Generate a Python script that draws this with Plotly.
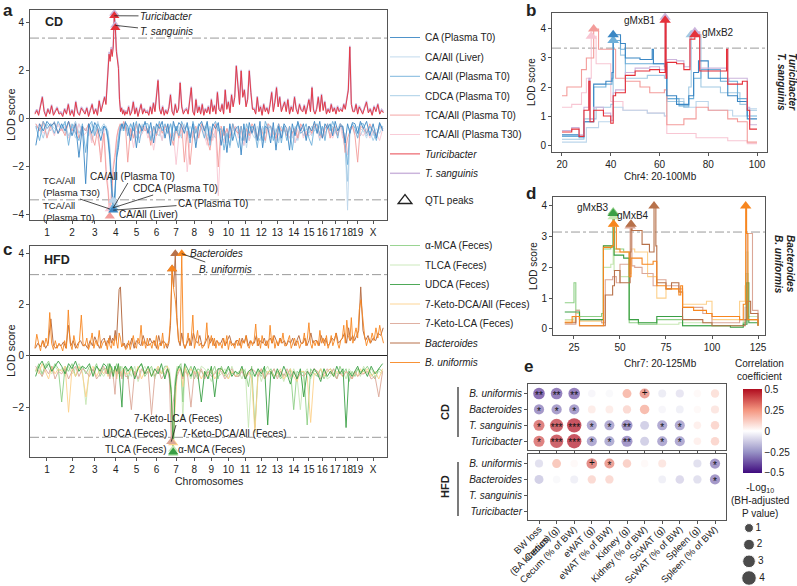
import plotly.graph_objects as go

W, H = 797, 586
FONT = "Liberation Sans, Arial, Helvetica, sans-serif"
TXT = "#222222"

def PX(x):
    return x / W

def PY(y):
    return 1 - y / H

# ---------------- genome map ----------------
CHR_NAMES = ['1', '2', '3', '4', '5', '6', '7', '8', '9', '10', '11', '12', '13', '14', '15', '16', '17', '18', '19', 'X']
CHR_LEN = [195, 182, 160, 157, 152, 150, 145, 130, 125, 131, 122, 120, 121, 125, 104, 98, 95, 91, 61, 171]

THR_A = 3.37   # CD genome-wide threshold
THR_C = 3.18   # HFD genome-wide threshold
THR_B = 3.34   # chr4 zoom threshold
THR_D = 3.15   # chr7 zoom threshold
QTL_CHR_A = 4
QTL_CHR_C = 7

# ---------------- panel a (CD), LOD per chromosome ----------------
turicibacter_cd = [
    [0.2, 0.35, 0.15, 0.5, 0.9, 0.3, 0.1, 0.4, 0.2, 0.55, 0.15, 0.3, 0.45, 0.2],
    [0.25, 0.1, 0.4, 0.2, 0.6, 0.15, 0.35, 0.1, 0.7, 0.25, 0.15, 0.45, 0.3],
    [0.2, 0.45, 0.1, 0.35, 0.6, 0.2, 0.4, 0.15, 0.75, 0.3, 0.55, 0.9],
    [0.6, 1.4, 2.1, 2.7, 2.4, 2.9, 2.6, 3.0, 4.3, 3.8, 2.8, 2.5, 2.1, 0.8, 0.3, 0.45, 0.2, 0.35, 0.15, 0.3],
    [0.2, 0.5, 0.15, 0.3, 0.7, 0.2, 0.45, 0.1, 0.35, 0.6, 0.2, 0.4, 0.25],
    [0.3, 0.15, 0.5, 0.2, 0.65, 0.3, 0.9, 1.6, 0.4, 0.2, 0.5, 0.15, 0.35],
    [0.2, 0.45, 1.0, 0.3, 0.15, 0.6, 0.25, 0.4, 1.5, 0.5, 0.2, 0.35],
    [0.4, 0.2, 0.7, 1.3, 0.3, 0.15, 0.8, 0.25, 0.5, 0.2, 0.6],
    [0.15, 0.4, 0.25, 0.5, 0.2, 0.8, 0.3, 0.55, 0.2, 1.1, 0.4],
    [0.3, 0.6, 0.2, 1.2, 0.4, 0.7, 0.25, 1.0, 0.5, 0.9, 2.2],
    [1.5, 0.6, 2.0, 0.9, 1.2, 0.5, 0.8, 2.0, 1.1, 0.4],
    [0.4, 0.2, 0.9, 0.3, 0.5, 0.15, 0.6, 0.3, 0.45, 0.2],
    [0.6, 1.1, 0.3, 0.7, 1.3, 0.5, 0.9, 0.3, 0.5, 0.7],
    [0.3, 0.8, 0.2, 0.5, 0.3, 0.9, 0.4, 0.2, 0.6, 0.35],
    [0.3, 0.55, 0.2, 0.45, 0.8, 0.3, 1.3, 0.35, 0.2],
    [0.4, 0.9, 0.3, 1.0, 0.35, 0.7, 0.2, 0.4],
    [0.25, 0.6, 0.3, 0.45, 0.2, 0.5, 0.3, 0.4],
    [0.3, 0.6, 0.4, 0.8, 1.2, 3.0, 0.6, 0.3],
    [0.3, 0.6, 0.2, 0.5, 0.35],
    [0.2, 0.45, 0.7, 0.25, 0.4, 0.15, 0.5, 0.3, 0.6, 0.2, 0.35, 0.25],
]
tsanguinis_cd = [
    [0.25, 0.4, 0.2, 0.55, 0.95, 0.35, 0.15, 0.45, 0.25, 0.6, 0.2, 0.35, 0.5, 0.25],
    [0.3, 0.15, 0.45, 0.25, 0.65, 0.2, 0.4, 0.15, 0.75, 0.3, 0.2, 0.5, 0.35],
    [0.25, 0.5, 0.15, 0.4, 0.65, 0.25, 0.45, 0.2, 0.8, 0.35, 0.6, 0.95],
    [0.65, 1.5, 2.2, 2.8, 2.5, 3.0, 2.7, 3.1, 4.4, 3.9, 2.9, 2.6, 2.2, 0.85, 0.35, 0.5, 0.25, 0.4, 0.2, 0.35],
    [0.25, 0.55, 0.2, 0.35, 0.75, 0.25, 0.5, 0.15, 0.4, 0.65, 0.25, 0.45, 0.3],
    [0.35, 0.2, 0.55, 0.25, 0.7, 0.35, 0.95, 1.65, 0.45, 0.25, 0.55, 0.2, 0.4],
    [0.25, 0.5, 1.05, 0.35, 0.2, 0.65, 0.3, 0.45, 1.55, 0.55, 0.25, 0.4],
    [0.45, 0.25, 0.75, 1.35, 0.35, 0.2, 0.85, 0.3, 0.55, 0.25, 0.65],
    [0.2, 0.45, 0.3, 0.55, 0.25, 0.85, 0.35, 0.6, 0.25, 1.15, 0.45],
    [0.35, 0.65, 0.25, 1.25, 0.45, 0.75, 0.3, 1.05, 0.55, 0.95, 2.25],
    [1.55, 0.65, 2.05, 0.95, 1.25, 0.55, 0.85, 2.05, 1.15, 0.45],
    [0.45, 0.25, 0.95, 0.35, 0.55, 0.2, 0.65, 0.35, 0.5, 0.25],
    [0.65, 1.15, 0.35, 0.75, 1.35, 0.55, 0.95, 0.35, 0.55, 0.75],
    [0.35, 0.85, 0.25, 0.55, 0.35, 0.95, 0.45, 0.25, 0.65, 0.4],
    [0.35, 0.6, 0.25, 0.5, 0.85, 0.35, 1.35, 0.4, 0.25],
    [0.45, 0.95, 0.35, 1.05, 0.4, 0.75, 0.25, 0.45],
    [0.3, 0.65, 0.35, 0.5, 0.25, 0.55, 0.35, 0.45],
    [0.35, 0.65, 0.45, 0.85, 1.25, 3.05, 0.65, 0.35],
    [0.35, 0.65, 0.25, 0.55, 0.4],
    [0.25, 0.5, 0.75, 0.3, 0.45, 0.2, 0.55, 0.35, 0.65, 0.25, 0.4, 0.3],
]
ca_t0_cd = [
    [1.1, 0.2, 0.5, 0.1, 0.3, 0.15, 0.6],
    [0.2, 0.5, 0.1, 0.7, 0.2, 1.6, 0.3],
    [2.7, 0.2, 0.6, 0.15, 0.4, 0.9, 0.3],
    [0.4, 0.8, 1.5, 2.7, 3.8, 3.0, 1.6, 1.2, 0.5, 0.2, 0.4, 0.15],
    [0.3, 0.9, 0.15, 1.2, 0.2, 0.5, 0.1],
    [0.6, 0.15, 1.0, 0.2, 0.4, 0.1, 0.8],
    [0.2, 1.1, 0.1, 0.5, 0.15, 0.3, 0.6],
    [0.15, 0.8, 0.2, 1.2, 0.3, 0.1],
    [0.5, 0.1, 0.9, 0.2, 0.4, 0.15],
    [1.1, 0.3, 1.4, 0.2, 0.9, 0.4],
    [0.3, 1.5, 0.2, 1.0, 0.15, 0.6],
    [0.2, 0.9, 0.1, 1.2, 0.3, 0.4],
    [1.0, 0.15, 1.3, 0.3, 0.8, 0.2],
    [0.4, 1.3, 0.2, 0.7, 0.1, 0.5],
    [0.2, 0.9, 0.3, 0.5, 0.1],
    [0.6, 0.1, 0.8, 0.2, 0.4],
    [0.2, 0.7, 0.1, 0.5, 0.3],
    [0.3, 1.0, 0.2, 0.6, 0.15],
    [0.2, 0.6, 0.1],
    [0.4, 0.1, 0.7, 0.2, 0.8, 0.15, 0.5],
]
ca_all_t0_cd = [
    [0.3, 0.9, 0.1, 0.4, 0.2, 0.6, 0.1],
    [0.4, 0.1, 1.1, 0.2, 0.6, 0.9, 0.2],
    [1.4, 0.3, 0.1, 0.7, 0.2, 0.5, 0.3],
    [0.5, 0.9, 1.7, 3.0, 3.7, 3.3, 1.5, 0.9, 0.3, 0.2, 0.5, 0.1],
    [0.7, 0.2, 0.5, 0.1, 1.0, 0.3, 0.2],
    [0.2, 0.9, 0.3, 0.6, 0.1, 0.5, 0.2],
    [0.6, 0.2, 0.9, 0.3, 0.7, 0.1, 0.4],
    [0.3, 1.0, 0.1, 0.6, 0.2, 0.4],
    [0.8, 0.2, 1.1, 0.3, 0.1, 0.5],
    [0.4, 1.3, 0.6, 1.1, 0.2, 0.7],
    [1.2, 0.3, 0.9, 0.2, 0.6, 0.3],
    [0.5, 1.2, 0.3, 0.9, 0.1, 0.4],
    [0.3, 0.9, 0.5, 0.2, 1.0, 0.3],
    [0.9, 0.3, 1.3, 0.4, 0.2, 0.6],
    [0.5, 0.2, 0.8, 1.1, 0.3],
    [0.2, 0.7, 0.3, 0.9, 0.2],
    [0.5, 0.1, 0.4, 0.8, 0.2],
    [0.3, 1.0, 1.9, 0.4, 0.2],
    [0.4, 0.8, 0.2],
    [0.2, 0.6, 0.3, 0.5, 0.9, 0.2, 0.4],
]
ca_all_liver_cd = [
    [0.2, 0.5, 0.1, 0.7, 0.2, 0.4, 0.3],
    [0.3, 0.6, 0.1, 0.4, 0.8, 0.2, 0.5],
    [0.4, 0.7, 0.2, 0.5, 0.1, 0.6, 0.3],
    [0.3, 0.6, 1.1, 2.5, 3.4, 3.6, 1.2, 0.7, 0.3, 0.5, 0.2, 0.4],
    [0.5, 0.2, 0.8, 0.3, 0.6, 0.2, 0.4],
    [0.6, 0.3, 0.7, 0.2, 0.5, 0.9, 0.3],
    [0.4, 0.8, 0.2, 0.6, 0.3, 0.7, 0.2],
    [0.7, 0.3, 0.6, 0.9, 0.2, 0.4],
    [0.3, 0.7, 0.4, 0.8, 0.5, 0.2],
    [0.8, 0.4, 1.0, 0.3, 0.7, 0.4],
    [0.4, 0.9, 0.5, 1.2, 0.3, 0.6],
    [0.8, 0.3, 0.7, 0.4, 1.0, 0.3],
    [0.3, 0.8, 0.4, 0.9, 0.5, 0.3],
    [0.7, 0.4, 0.8, 0.3, 0.9, 0.4],
    [0.4, 0.8, 0.3, 0.7, 0.3],
    [0.6, 0.3, 0.8, 0.4, 0.3],
    [0.3, 0.7, 0.4, 0.6, 0.2],
    [0.4, 0.8, 3.8, 0.5, 0.3],
    [0.3, 0.6, 0.4],
    [0.5, 0.8, 0.3, 0.7, 0.4, 0.6, 0.3],
]
cdca_t0_cd = [
    [0.3, 0.4, 0.8, 0.2, 0.5, 0.1, 0.6],
    [0.4, 0.2, 0.7, 0.4, 0.1, 0.6, 0.3],
    [0.5, 0.2, 0.9, 0.3, 0.6, 0.4, 0.2],
    [0.4, 0.5, 1.3, 2.8, 3.7, 3.1, 1.3, 0.8, 0.3, 0.4, 0.2, 0.5],
    [0.4, 0.7, 0.4, 0.8, 0.2, 0.6, 0.3],
    [0.5, 0.8, 0.3, 0.6, 0.7, 0.3, 0.4],
    [0.6, 0.2, 0.7, 0.3, 0.5, 0.8, 0.3],
    [0.3, 0.6, 0.8, 0.4, 0.7, 0.2],
    [0.5, 0.9, 0.3, 0.6, 0.8, 0.3],
    [0.7, 0.9, 0.4, 1.2, 0.5, 0.3],
    [0.6, 0.8, 1.1, 0.4, 0.9, 0.3],
    [0.4, 0.7, 0.9, 0.3, 0.6, 0.2],
    [0.8, 0.4, 0.7, 1.0, 0.3, 0.5],
    [0.5, 0.8, 0.5, 1.0, 0.7, 0.3],
    [0.7, 0.4, 0.6, 0.3, 0.5],
    [0.4, 0.9, 0.3, 0.6, 0.4],
    [0.7, 0.3, 0.6, 0.4, 0.2],
    [0.6, 1.3, 2.6, 0.4, 0.3],
    [0.6, 0.3, 0.7],
    [0.4, 0.7, 0.5, 0.9, 0.6, 0.4, 0.3],
]
tca_t0_cd = [
    [0.2, 0.5, 0.1, 0.8, 0.3, 0.15, 0.6],
    [0.4, 0.7, 0.1, 0.5, 0.2, 0.8, 0.3],
    [0.5, 0.2, 0.7, 1.1, 0.4, 1.8, 0.6],
    [2.4, 3.0, 4.05, 3.3, 2.1, 1.6, 0.8, 0.4, 0.2, 0.4, 0.1, 0.3],
    [1.8, 0.4, 0.8, 0.2, 0.6, 0.3, 0.5],
    [0.4, 1.1, 0.3, 0.7, 0.2, 0.6, 0.3],
    [0.3, 0.7, 1.1, 0.4, 0.8, 0.2, 1.8],
    [0.5, 1.9, 0.6, 0.3, 0.8, 0.2],
    [0.4, 0.8, 1.3, 0.5, 0.2, 2.0],
    [0.3, 0.7, 0.4, 0.8, 0.2, 0.5],
    [0.6, 0.3, 0.9, 0.4, 0.7, 0.2],
    [0.4, 0.8, 0.3, 0.6, 0.9, 0.2],
    [0.3, 0.6, 0.8, 0.2, 0.5, 0.4],
    [0.7, 0.3, 0.6, 0.4, 0.8, 0.2],
    [0.4, 0.7, 0.3, 0.6, 0.2],
    [0.3, 0.6, 0.8, 0.4, 0.2],
    [0.8, 0.4, 0.3, 0.7, 0.2],
    [0.4, 1.4, 0.8, 0.5, 0.3],
    [0.7, 1.8, 0.3],
    [0.4, 0.6, 0.2, 0.5, 0.7, 0.3, 0.4],
]
tca_t30_cd = [
    [0.4, 0.2, 0.6, 0.4, 0.3, 0.7, 0.2],
    [0.5, 0.3, 0.8, 0.4, 0.6, 0.2, 0.7],
    [0.6, 0.4, 1.0, 0.5, 0.8, 1.5, 0.4],
    [2.1, 2.8, 3.75, 3.0, 1.9, 1.4, 0.7, 0.4, 0.5, 0.3, 0.4, 0.2],
    [0.7, 0.4, 1.2, 0.5, 0.8, 0.6, 0.3],
    [0.8, 0.5, 1.3, 0.6, 0.4, 0.9, 0.3],
    [0.5, 0.9, 0.6, 1.9, 0.7, 0.5, 0.3],
    [2.2, 0.8, 0.5, 0.9, 0.6, 0.3],
    [0.7, 1.1, 0.5, 0.9, 0.4, 3.2],
    [0.6, 1.0, 0.4, 0.7, 0.5, 0.3],
    [0.8, 0.5, 1.1, 0.6, 0.9, 0.4],
    [0.6, 0.9, 0.5, 0.8, 0.4, 0.3],
    [0.7, 0.4, 0.9, 0.6, 0.8, 0.3],
    [0.5, 0.8, 0.6, 1.0, 0.4, 0.3],
    [0.8, 0.5, 0.7, 0.6, 0.3],
    [0.5, 0.8, 0.4, 0.7, 0.3],
    [0.6, 0.8, 0.5, 0.7, 0.3],
    [0.8, 0.6, 1.5, 0.5, 0.3],
    [0.5, 0.8, 0.6],
    [0.7, 0.4, 0.8, 0.5, 0.6, 0.9, 0.4],
]

# ---------------- panel c (HFD), LOD per chromosome ----------------
buniformis_hfd = [
    [0.3, 0.85, 0.5, 0.2, 0.6, 0.35, 0.7, 0.4, 1.7, 0.5, 0.25, 0.6, 0.3, 0.5],
    [0.4, 0.2, 0.6, 0.3, 1.8, 0.5, 0.25, 0.8, 0.4, 0.3, 0.6, 1.6, 0.4],
    [0.4, 0.7, 0.25, 0.5, 0.9, 0.3, 0.6, 0.4, 1.0, 0.3, 0.5, 0.6],
    [0.5, 0.25, 0.7, 0.4, 0.3, 0.6, 0.4, 0.8, 0.5, 0.3, 0.9, 0.7, 0.35, 0.5, 0.4, 0.25],
    [0.3, 0.6, 0.25, 0.5, 0.8, 0.4, 0.3, 0.7, 0.5, 1.2, 0.4, 0.6, 0.3],
    [0.7, 0.4, 0.5, 0.3, 0.6, 0.4, 0.8, 0.25, 0.5, 0.4, 0.9, 0.3, 0.5],
    [0.4, 0.6, 1.5, 3.4, 2.6, 2.2, 1.2, 0.6, 0.5, 4.0, 0.5, 0.3],
    [0.5, 0.9, 0.4, 0.7, 1.6, 0.3, 0.6, 1.0, 0.4, 0.5, 0.3],
    [0.4, 0.6, 1.3, 0.3, 0.5, 0.8, 0.4, 0.7, 0.3, 0.6, 0.4],
    [0.5, 0.3, 0.7, 0.4, 0.8, 0.25, 0.6, 0.4, 0.5, 0.3, 0.6],
    [0.4, 0.7, 0.3, 0.6, 0.5, 0.8, 0.4, 0.3, 0.6, 0.4],
    [0.6, 1.25, 0.4, 0.7, 0.3, 0.8, 0.5, 0.4, 0.6, 0.3],
    [1.2, 0.5, 0.8, 0.3, 0.6, 0.4, 0.7, 0.5, 0.9, 0.4],
    [0.4, 0.6, 0.8, 0.3, 0.5, 0.7, 0.4, 0.6, 0.3, 0.5],
    [0.5, 0.9, 0.4, 0.7, 1.3, 0.5, 0.3, 0.6, 0.4],
    [0.6, 0.4, 1.0, 0.5, 0.7, 0.4, 0.8, 0.3],
    [0.5, 0.8, 0.4, 0.6, 0.9, 0.5, 0.3, 0.6],
    [0.7, 1.2, 0.5, 1.4, 0.8, 0.6, 1.5, 0.5],
    [0.8, 1.1, 0.7, 1.8, 2.2],
    [1.5, 0.8, 0.4, 0.7, 0.5, 0.9, 0.6, 1.1, 0.7, 1.2, 0.8, 0.5],
]
bacteroides_hfd = [
    [0.3, 0.5, 0.35, 0.6, 0.3, 0.5, 1.45, 0.4, 0.3, 0.45],
    [0.4, 0.55, 0.3, 1.2, 0.4, 0.6, 0.3, 0.5, 0.6, 0.4],
    [0.45, 0.3, 0.6, 0.4, 0.75, 0.5, 0.3, 0.6, 0.7],
    [0.4, 0.6, 0.5, 0.8, 0.5, 0.7, 0.6, 1.0, 0.6, 1.5, 2.6, 2.7, 1.8, 0.4, 0.5, 0.3],
    [0.5, 0.4, 0.7, 0.3, 0.6, 0.5, 0.4, 0.8, 0.5],
    [0.4, 0.7, 0.5, 0.6, 0.3, 0.8, 0.4, 0.6, 0.5],
    [0.3, 0.5, 1.2, 3.4, 2.7, 4.0, 1.5, 0.6, 0.4, 0.9, 0.5, 0.3],
    [0.5, 0.7, 0.4, 0.9, 0.6, 0.5, 0.8, 0.4],
    [0.4, 0.6, 0.8, 0.5, 0.7, 0.4, 0.6, 0.5],
    [0.5, 0.7, 0.4, 0.6, 0.8, 0.5, 0.4, 0.6],
    [0.6, 0.4, 0.7, 0.5, 0.8, 0.4, 0.6, 0.5],
    [0.5, 0.8, 0.4, 0.6, 0.5, 0.7, 0.4, 0.6],
    [0.7, 0.5, 0.8, 0.6, 0.4, 0.7, 0.5, 0.6],
    [0.4, 0.6, 0.5, 0.7, 0.4, 0.6, 0.8, 0.5],
    [0.5, 0.7, 0.4, 0.6, 0.9, 0.5, 0.6],
    [0.6, 0.4, 0.8, 0.5, 0.7, 0.4],
    [0.5, 0.7, 0.6, 0.9, 0.5, 0.6],
    [0.7, 0.9, 0.5, 1.1, 0.6, 0.8],
    [0.6, 0.8, 1.0, 2.7],
    [1.0, 0.6, 0.8, 0.5, 0.7, 0.6, 0.9, 0.8, 1.1],
]
udca_hfd = [
    [0.8, 0.4, 0.2, 0.5, 0.3, 0.6, 0.4, 0.2],
    [0.4, 0.7, 0.3, 0.5, 0.2, 0.6, 0.4],
    [0.5, 0.3, 0.8, 0.4, 0.6, 0.3],
    [0.4, 0.7, 0.3, 0.5, 0.8, 0.4, 0.6, 0.3, 1.2, 2.0, 0.5, 0.4],
    [0.6, 0.4, 0.9, 0.5, 0.3, 0.7],
    [0.4, 0.8, 0.5, 0.7, 0.3, 0.9],
    [0.5, 0.7, 1.5, 3.75, 1.2, 0.6, 0.4, 0.5, 0.8, 0.3],
    [0.5, 0.8, 0.4, 0.7, 1.8],
    [0.6, 0.9, 0.4, 1.6, 0.5],
    [0.5, 0.7, 0.4, 0.8, 0.6],
    [0.7, 0.4, 0.9, 0.6, 0.5],
    [0.8, 0.5, 0.7, 0.4, 2.7],
    [0.6, 0.9, 0.5, 0.8, 0.4],
    [0.7, 1.1, 0.6, 0.9, 0.5],
    [1.6, 0.6, 0.8, 0.5],
    [0.7, 1.0, 0.5, 0.8],
    [0.6, 0.8, 0.4, 0.7],
    [0.5, 2.8, 0.6, 0.8],
    [0.6, 0.4, 0.7],
    [0.5, 0.8, 0.4, 0.7, 0.5, 0.3],
]
amca_hfd = [
    [0.6, 0.3, 0.7, 0.4, 0.2, 0.6, 0.3, 0.5],
    [1.8, 0.4, 0.6, 0.3, 0.8, 0.5, 0.4],
    [0.7, 0.4, 0.6, 0.3, 0.8, 0.5],
    [0.5, 0.3, 0.8, 0.4, 0.6, 0.5, 0.3, 0.7, 0.4, 0.8, 0.5, 0.4],
    [0.9, 0.4, 0.7, 0.5, 0.3, 0.8],
    [0.6, 0.4, 0.8, 0.5, 0.7, 0.4],
    [0.4, 0.8, 1.3, 3.8, 1.0, 0.5, 0.4, 0.3, 1.8, 0.4],
    [0.7, 0.4, 0.9, 0.5, 0.6],
    [0.8, 0.5, 0.7, 0.4, 0.9],
    [0.4, 0.8, 0.5, 0.7, 0.6],
    [0.8, 0.5, 0.6, 1.2, 0.4],
    [2.8, 0.6, 0.8, 0.5, 0.7],
    [0.5, 0.8, 0.6, 0.9, 0.7],
    [0.8, 0.5, 2.1, 0.6, 0.7],
    [0.6, 2.7, 0.5, 0.7],
    [0.8, 0.5, 0.9, 0.6],
    [0.5, 0.7, 0.9, 0.4],
    [0.7, 0.5, 1.0, 0.6],
    [0.8, 0.5, 0.6],
    [0.6, 0.4, 0.7, 0.9, 0.5, 0.6],
]
tlca_hfd = [
    [0.6, 0.4, 0.8, 0.3, 0.5, 0.7, 0.4, 0.6],
    [0.5, 0.8, 0.4, 0.7, 0.5, 0.3, 0.6],
    [1.9, 0.5, 0.7, 0.4, 0.6, 0.8],
    [0.6, 0.4, 0.7, 0.5, 0.9, 0.4, 0.8, 0.5, 0.6, 0.4, 0.7, 0.5],
    [0.5, 0.8, 0.4, 1.0, 0.6, 0.4],
    [0.7, 0.5, 0.9, 0.4, 0.6, 0.8],
    [0.6, 0.5, 1.2, 3.65, 0.9, 0.4, 0.5, 0.4, 2.5, 0.5],
    [0.6, 0.9, 0.5, 0.8, 0.4],
    [0.5, 0.7, 1.0, 0.6, 0.8],
    [0.7, 0.5, 0.9, 0.4, 0.8],
    [0.6, 0.9, 0.5, 2.8, 0.7],
    [0.8, 0.5, 1.0, 0.6, 0.4],
    [0.7, 0.5, 0.8, 0.6, 1.0],
    [0.6, 0.9, 0.5, 0.8, 2.1],
    [0.7, 0.5, 0.9, 0.6],
    [0.6, 0.8, 0.5, 0.9],
    [0.8, 0.5, 0.7, 0.6],
    [0.6, 0.9, 0.5, 0.7],
    [0.7, 0.5, 0.8],
    [0.4, 0.7, 0.5, 0.8, 0.6, 0.7],
]
kdca_hfd = [
    [0.5, 0.7, 0.3, 0.6, 0.9, 0.4, 0.7, 0.5],
    [0.6, 0.4, 2.2, 0.5, 0.8, 0.4, 0.7],
    [1.6, 0.6, 0.4, 0.8, 0.5, 0.7],
    [0.5, 0.8, 0.4, 0.6, 0.7, 0.5, 0.9, 0.4, 0.8, 0.6, 0.5, 0.7],
    [0.7, 0.5, 0.8, 0.4, 0.9, 0.6],
    [0.5, 0.8, 0.6, 0.4, 0.7, 0.5],
    [0.4, 0.7, 1.6, 3.4, 2.0, 0.7, 0.5, 0.6, 1.2, 0.4],
    [0.8, 0.5, 0.7, 0.6, 0.9],
    [0.6, 0.8, 0.5, 0.9, 0.7],
    [0.5, 0.7, 0.9, 0.6, 0.8],
    [0.7, 0.5, 0.8, 0.6, 0.9],
    [3.0, 0.7, 0.5, 0.9, 0.6],
    [0.6, 0.8, 0.7, 0.5, 0.9],
    [0.7, 0.5, 0.8, 1.0, 0.6],
    [0.6, 0.8, 2.6, 0.7],
    [0.7, 0.5, 0.8, 0.6],
    [0.5, 0.8, 0.6, 0.7],
    [0.8, 0.6, 0.7, 0.9],
    [0.6, 0.8, 0.5],
    [0.7, 0.5, 0.8, 0.6, 0.9, 0.5],
]
klca_hfd = [
    [0.4, 0.6, 0.8, 0.5, 0.7, 0.4, 0.9, 0.6],
    [0.7, 0.5, 0.9, 0.6, 0.4, 0.8, 0.5],
    [0.6, 0.8, 0.5, 0.9, 0.7, 0.4],
    [0.7, 0.5, 0.9, 0.6, 0.8, 1.5, 0.5, 0.7, 0.6, 0.9, 0.5, 0.8],
    [0.8, 2.1, 0.6, 0.9, 0.5, 0.7],
    [0.6, 2.3, 0.8, 0.5, 0.9, 0.7],
    [0.5, 0.9, 3.35, 1.8, 1.3, 0.8, 0.6, 0.5, 0.9, 0.6],
    [0.7, 2.0, 0.6, 0.9, 0.5],
    [0.9, 0.6, 0.8, 0.7, 0.5],
    [0.6, 0.9, 0.7, 0.5, 0.8],
    [0.8, 0.6, 0.9, 0.7, 0.5],
    [0.6, 0.8, 0.5, 0.9, 0.7],
    [0.7, 0.5, 0.9, 0.6, 0.8],
    [0.5, 0.8, 0.6, 0.9, 0.7],
    [0.8, 0.6, 0.7, 0.5],
    [0.6, 0.9, 0.7, 0.5],
    [0.7, 0.5, 0.9, 0.6],
    [0.8, 0.6, 0.7, 0.9],
    [0.6, 0.8, 0.7],
    [0.7, 0.6, 0.9, 0.8, 1.6, 0.6],
]

# ---------------- panel b: chr4 20-100 Mb (Mb, LOD) ----------------
b_turi_x = [20, 24, 27, 29, 31, 31.5, 33, 37, 40, 41, 42, 46, 50, 56, 60, 62.3, 62.7, 63, 67, 70, 72.5, 74.5, 76.5, 87.5, 88, 88.5, 94, 96, 97, 100]
b_turi_y = [0.45, 0.55, 0.3, 1.2, 2.2, 0.8, 1.2, 1.0, 0.75, 1.7, 1.8, 2.4, 2.55, 2.6, 2.5, 4.3, 2.3, 2.85, 2.8, 2.6, 3.65, 3.8, 2.55, 3.3, 2.1, 2.1, 2.2, 1.2, 0.55, 0.55]
b_tsan_x = [20, 24, 27, 29, 31, 31.5, 33, 37, 40, 41, 42, 46, 50, 56, 60, 62.3, 62.7, 63, 67, 70, 72.5, 74.5, 76.5, 87.5, 88, 88.5, 96, 97, 100]
b_tsan_y = [0.5, 0.6, 0.35, 1.3, 2.3, 0.9, 1.3, 1.1, 0.85, 1.8, 1.9, 2.5, 2.65, 2.7, 2.6, 4.4, 2.4, 2.95, 2.9, 2.7, 3.75, 3.9, 2.65, 3.3, 2.2, 2.3, 1.3, 0.7, 0.7]
b_ca_t0_x = [20, 27, 29, 33, 38, 40.5, 41, 44, 46, 52, 57, 57.5, 62, 63, 67, 72, 74, 76, 80, 88, 92, 96, 100]
b_ca_t0_y = [0.35, 0.3, 0.8, 2.1, 2.2, 2.5, 3.8, 3.5, 3.0, 2.95, 3.3, 2.8, 2.8, 1.7, 1.4, 1.7, 2.5, 2.9, 2.3, 1.7, 1.5, 0.9, 0.9]
b_liver_x = [20, 28, 30, 35, 40, 41, 45, 55, 62, 63, 70, 75, 80, 90, 96, 100]
b_liver_y = [0.1, 0.1, 0.6, 0.8, 1.0, 1.3, 1.2, 1.1, 1.0, 1.6, 1.3, 1.5, 1.2, 1.0, 1.25, 1.25]
b_ca_all_x = [20, 27, 29, 33, 38, 40.5, 41, 44, 46, 55, 62, 63, 68, 72, 74, 77, 85, 92, 96, 100]
b_ca_all_y = [0.3, 0.25, 0.8, 2.0, 2.1, 2.3, 3.6, 3.3, 2.8, 2.8, 2.7, 1.6, 1.35, 1.6, 2.3, 2.6, 2.2, 1.6, 1.0, 1.0]
b_cdca_x = [20, 27, 29, 34, 40, 41, 44, 46, 55, 62, 63, 70, 72, 73, 77, 85, 93, 96, 100]
b_cdca_y = [0.2, 0.2, 0.9, 1.3, 1.4, 3.6, 3.1, 2.3, 2.4, 2.3, 1.5, 1.3, 2.0, 3.8, 2.0, 1.8, 1.4, 1.2, 1.2]
b_tca_t0_x = [20, 22, 28, 30, 33, 35, 40, 42, 46, 52, 56, 62, 63, 70, 75, 80, 88, 92, 96, 100]
b_tca_t0_y = [1.7, 2.0, 2.6, 3.0, 4.0, 3.3, 3.3, 2.3, 2.2, 2.0, 1.8, 1.9, 0.7, 0.9, 1.3, 1.2, 0.9, 0.8, 0.1, 0.1]
b_tca_t30_x = [20, 24, 28, 30, 32, 34, 40, 45, 55, 62, 63, 75, 88, 96, 100]
b_tca_t30_y = [1.3, 1.4, 1.8, 2.3, 3.75, 2.8, 1.5, 1.2, 1.1, 1.0, 0.4, 0.25, 0.15, 0.05, 0.05]

# ---------------- panel d: chr7 20-125 Mb (Mb, LOD) ----------------
d_udca_x = [20, 28, 40, 41, 44, 46.3, 46.8, 48, 52, 55, 60, 68, 70, 82, 84, 100, 110, 117, 119, 120, 125]
d_udca_y = [0.55, 0.3, 0.3, 2.7, 2.7, 3.75, 2.4, 2.4, 2.3, 0.3, 0.2, 0.2, 0.4, 0.4, 0.1, 0.1, 0.05, 0.15, 1.5, 0.2, 0.1]
d_amca_x = [20, 24, 25, 26, 28, 40, 41, 45, 46.3, 46.8, 50, 52, 55, 60, 70, 82, 84, 100, 117, 118.5, 119.5, 125]
d_amca_y = [0.85, 0.85, 1.5, 0.6, 0.4, 0.5, 2.6, 2.65, 3.8, 2.6, 2.6, 2.5, 0.2, 0.15, 0.3, 0.3, 0.1, 0.1, 0.2, 1.8, 0.3, 0.2]
d_tlca_x = [20, 25, 28, 40, 41, 45, 46.3, 46.8, 50, 55, 60, 70, 82, 100, 117, 118.5, 119.5, 125]
d_tlca_y = [0.3, 0.4, 0.3, 0.2, 2.0, 2.1, 3.65, 1.9, 1.7, 0.3, 0.2, 0.15, 0.2, 0.1, 0.3, 2.5, 0.4, 0.3]
d_kdca_x = [20, 26, 28, 40, 41, 46, 46.5, 47, 50, 55, 56, 58, 65, 70, 75, 82, 84, 97, 100, 115, 118, 119, 125]
d_kdca_y = [0.25, 0.5, 0.25, 0.3, 2.7, 2.7, 3.4, 2.5, 2.5, 1.8, 2.6, 2.5, 1.7, 1.0, 1.3, 1.2, 0.8, 0.9, 0.3, 0.9, 1.4, 0.3, 0.2]
d_klca_x = [20, 26, 28, 40, 42, 46, 48, 50, 55.5, 56.5, 58, 62, 68, 70, 75, 82, 84, 95, 100, 115, 118, 119, 122, 125]
d_klca_y = [0.15, 0.6, 0.3, 0.2, 1.6, 1.7, 1.5, 2.1, 3.35, 2.05, 2.0, 1.8, 1.4, 1.6, 1.4, 1.3, 0.7, 0.5, 0.2, 0.3, 0.7, 3.1, 0.6, 0.2]
d_bact_x = [20, 26, 28, 40, 42, 46, 47, 50, 55.5, 56, 56.5, 58, 62, 66, 68.5, 69.5, 70, 75, 78, 82, 84, 95, 100, 118, 119, 121, 125]
d_bact_y = [0.2, 0.4, 0.1, 0.1, 1.1, 1.4, 1.9, 1.5, 2.5, 3.4, 3.2, 3.2, 2.75, 2.5, 4.0, 2.7, 1.5, 1.3, 1.5, 1.2, 0.3, 0.2, 0.1, 0.3, 0.9, 0.5, 0.1]
d_buni_x = [20, 24, 28, 40, 41, 45.5, 46.5, 48, 50, 55, 56, 58, 62, 68, 70, 75, 82, 83, 84, 90, 97, 100, 115, 117, 118.3, 118.8, 119.5, 125]
d_buni_y = [0.2, 0.4, 0.1, 0.1, 2.65, 2.7, 3.4, 2.6, 2.5, 1.7, 2.3, 2.3, 2.1, 2.2, 1.4, 1.3, 1.1, 1.4, 0.7, 0.6, 0.5, 0.4, 0.3, 0.8, 4.0, 3.1, 0.3, 0.1]

# ---------------- panel e: correlations ----------------
e_cols = ["BW loss<br>(BA kinetics)", "Cecum (g)", "Cecum (% of BW)", "eWAT (g)", "eWAT (% of BW)",
          "Kidney (g)", "Kidney (% of BW)", "ScWAT (g)", "ScWAT (% of BW)", "Spleen (g)", "Spleen (% of BW)"]
e_rows = ["B. uniformis", "Bacteroides", "T. sanguinis", "Turicibacter"]
cd_r = [
    [-0.42, -0.38, -0.38, -0.03, -0.02, 0.22, 0.30, -0.06, -0.08, 0.02, 0.10],
    [-0.32, -0.30, -0.30, 0.06, 0.06, 0.12, 0.22, -0.03, -0.05, 0.02, 0.08],
    [0.38, 0.45, 0.50, -0.27, -0.27, -0.32, -0.15, -0.27, -0.27, 0.05, 0.13],
    [0.38, 0.46, 0.50, -0.27, -0.26, -0.32, -0.15, -0.27, -0.27, 0.05, 0.13],
]
cd_q = [
    [2.4, 2.4, 2.4, 0.3, 0.3, 1.0, 1.6, 0.5, 0.6, 0.3, 0.7],
    [1.7, 1.7, 1.7, 0.4, 0.4, 0.7, 1.3, 0.3, 0.4, 0.2, 0.6],
    [2.1, 3.3, 3.9, 1.6, 1.6, 2.1, 1.0, 1.6, 1.6, 0.3, 0.8],
    [2.1, 3.3, 3.9, 1.6, 1.6, 2.1, 1.0, 1.6, 1.6, 0.3, 0.8],
]
cd_sig = [
    ["**", "**", "**", "", "", "", "+", "", "", "", ""],
    ["*", "*", "*", "", "", "", "", "", "", "", ""],
    ["*", "***", "***", "*", "*", "**", "", "*", "*", "", ""],
    ["*", "***", "***", "*", "*", "**", "", "*", "*", "", ""],
]
hfd_r = [
    [-0.10, 0.18, 0.02, 0.35, 0.30, 0.15, 0.02, 0.08, 0.00, -0.10, -0.32],
    [-0.15, -0.02, -0.05, 0.12, 0.12, 0.00, 0.00, -0.05, -0.12, -0.10, -0.32],
]
hfd_q = [
    [0.6, 1.0, 0.3, 1.9, 1.6, 0.8, 0.3, 0.5, 0.2, 0.6, 1.7],
    [1.0, 0.3, 0.5, 0.7, 0.7, 0.2, 0.2, 0.4, 0.8, 0.7, 1.7],
]
hfd_sig = [
    ["", "", "", "+", "*", "", "", "", "", "", "*"],
    ["", "", "", "", "", "", "", "", "", "", "*"],
]
size_legend_vals = [1, 2, 3, 4]

# ---------------- colours ----------------
C = {
    'ca_t0': '#3b87c4', 'liver': '#bcd6eb', 'ca_all': '#6eafd9', 'cdca': '#a2cae4',
    'tca_t0': '#f39c9a', 'tca_t30': '#f8c6d3', 'turi': '#e5303a', 'tsan': '#cbb5dc',
    'amca': '#8ecf86', 'tlca': '#c6e7b4', 'udca': '#3a9f45', 'kdca': '#fdd08a',
    'klca': '#dba797', 'bact': '#b7714a', 'buni': '#f7861f',
}

# ---------------- helpers ----------------
CHR_START = []
_s = 0
for _L in CHR_LEN:
    CHR_START.append(_s)
    _s += _L
CHR_MID = [CHR_START[i] + CHR_LEN[i] / 2 for i in range(len(CHR_LEN))]


def genome_xy(vals):
    xs, ys = [], []
    for c, v_list in enumerate(vals):
        n = len(v_list)
        for i, v in enumerate(v_list):
            xs.append(CHR_START[c] + CHR_LEN[c] * (i + 0.5) / n)
            ys.append(v)
    return xs, ys


def genome_peaks(vals, chrom, thr):
    c = chrom - 1
    n = len(vals[c])
    return [(CHR_START[c] + CHR_LEN[c] * (i + 0.5) / n, v) for i, v in enumerate(vals[c]) if v >= thr]


def step_peaks(xs, ys, thr):
    out = []
    for i in range(len(ys)):
        left = ys[i - 1] if i > 0 else -1
        right = ys[i + 1] if i < len(ys) - 1 else -1
        if ys[i] >= thr and ys[i] > left and ys[i] >= right:
            out.append((xs[i], ys[i]))
    return out


# panel geometry (pixels) and ranges
GEO = {
    'a': dict(x=(30, 387), y=(10, 220), rx=(-30, 2654), ry=(-4.21, 4.54)),
    'c': dict(x=(30, 387), y=(246, 457), rx=(-30, 2654), ry=(-3.95, 4.3)),
    'b': dict(x=(552, 767), y=(13, 152), rx=(15.9, 104.1), ry=(-0.24, 4.55)),
    'd': dict(x=(553, 765), y=(197, 335), rx=(13.6, 128.8), ry=(-0.2, 4.29)),
}


def to_data(panel, px, py):
    g = GEO[panel]
    x = g['rx'][0] + (px - g['x'][0]) / (g['x'][1] - g['x'][0]) * (g['rx'][1] - g['rx'][0])
    y = g['ry'][0] + (g['y'][1] - py) / (g['y'][1] - g['y'][0]) * (g['ry'][1] - g['ry'][0])
    return x, y


fig = go.Figure()

# ---------------- panel a traces ----------------
a_specs = [
    ('liver', ca_all_liver_cd, C['liver'], 'CA/All (Liver)', -1, 2, 0.9),
    ('cdca', cdca_t0_cd, C['cdca'], 'CDCA (Plasma T0)', -1, 4, 0.9),
    ('tca_t30', tca_t30_cd, C['tca_t30'], 'TCA/All (Plasma T30)', -1, 6, 0.9),
    ('tca_t0', tca_t0_cd, C['tca_t0'], 'TCA/All (Plasma T0)', -1, 5, 0.9),
    ('ca_all', ca_all_t0_cd, C['ca_all'], 'CA/All (Plasma T0)', -1, 3, 0.9),
    ('ca_t0', ca_t0_cd, C['ca_t0'], 'CA (Plasma T0)', -1, 1, 0.9),
    ('tsan', tsanguinis_cd, C['tsan'], '<i>T. sanguinis</i>', 1, 8, 1.5),
    ('turi', turicibacter_cd, C['turi'], '<i>Turicibacter</i>', 1, 7, 0.9),
]
a_peaks = {}
for key, vals, col, name, sign, rank, wd in a_specs:
    xs, ys = genome_xy(vals)
    fig.add_trace(go.Scatter(x=xs, y=[sign * v for v in ys], mode='lines', line=dict(color=col, width=wd),
                             name=name, legend='legend', legendrank=rank, legendgroup='a_' + key,
                             xaxis='x', yaxis='y', hoverinfo='skip'))
    a_peaks[key] = [(px_, sign * v) for px_, v in genome_peaks(vals, QTL_CHR_A, THR_A)]
for key, vals, col, name, sign, rank, wd in a_specs:
    pk = a_peaks[key]
    fig.add_trace(go.Scatter(x=[p[0] for p in pk], y=[p[1] for p in pk], mode='markers',
                             marker=dict(symbol='triangle-up', size=9, color=col, line=dict(width=0)),
                             showlegend=False, xaxis='x', yaxis='y', hoverinfo='skip'))
fig.add_trace(go.Scatter(x=[None], y=[None], mode='markers', name='QTL peaks',
                         marker=dict(symbol='triangle-up-open', size=12, color='#222222', line=dict(width=1.3)),
                         legend='legend3', xaxis='x', yaxis='y'))

# ---------------- panel c traces ----------------
c_specs = [
    ('tlca', tlca_hfd, C['tlca'], 'TLCA (Feces)', -1, 2, 0.9),
    ('amca', amca_hfd, C['amca'], 'α-MCA (Feces)', -1, 1, 0.9),
    ('kdca', kdca_hfd, C['kdca'], '7-Keto-DCA/All (Feces)', -1, 4, 0.9),
    ('klca', klca_hfd, C['klca'], '7-Keto-LCA (Feces)', -1, 5, 0.9),
    ('udca', udca_hfd, C['udca'], 'UDCA (Feces)', -1, 3, 0.9),
    ('bact', bacteroides_hfd, C['bact'], '<i>Bacteroides</i>', 1, 6, 1.0),
    ('buni', buniformis_hfd, C['buni'], '<i>B. uniformis</i>', 1, 7, 0.9),
]
c_peaks = {}
for key, vals, col, name, sign, rank, wd in c_specs:
    xs, ys = genome_xy(vals)
    fig.add_trace(go.Scatter(x=xs, y=[sign * v for v in ys], mode='lines', line=dict(color=col, width=wd),
                             name=name, legend='legend2', legendrank=rank, legendgroup='c_' + key,
                             xaxis='x2', yaxis='y2', hoverinfo='skip'))
    c_peaks[key] = [(px_, sign * v) for px_, v in genome_peaks(vals, QTL_CHR_C, THR_C)]
for key, vals, col, name, sign, rank, wd in c_specs:
    pk = c_peaks[key]
    fig.add_trace(go.Scatter(x=[p[0] for p in pk], y=[p[1] for p in pk], mode='markers',
                             marker=dict(symbol='triangle-up', size=9, color=col, line=dict(width=0)),
                             showlegend=False, xaxis='x2', yaxis='y2', hoverinfo='skip'))

# ---------------- panel b traces ----------------
b_specs = [
    (b_tca_t30_x, b_tca_t30_y, C['tca_t30']),
    (b_liver_x, b_liver_y, C['liver']),
    (b_cdca_x, b_cdca_y, C['cdca']),
    (b_ca_all_x, b_ca_all_y, C['ca_all']),
    (b_tca_t0_x, b_tca_t0_y, C['tca_t0']),
    (b_ca_t0_x, b_ca_t0_y, C['ca_t0']),
    (b_tsan_x, b_tsan_y, C['tsan']),
    (b_turi_x, b_turi_y, C['turi']),
]
for xs, ys, col in b_specs:
    fig.add_trace(go.Scatter(x=xs, y=ys, mode='lines', line=dict(color=col, width=1.1, shape='hv'),
                             showlegend=False, xaxis='x3', yaxis='y3', hoverinfo='skip'))
for xs, ys, col in b_specs:
    pk = step_peaks(xs, ys, THR_B)
    fig.add_trace(go.Scatter(x=[p[0] for p in pk], y=[p[1] for p in pk], mode='markers',
                             marker=dict(symbol='triangle-up', size=10, color=col, line=dict(width=0)),
                             showlegend=False, xaxis='x3', yaxis='y3', hoverinfo='skip'))

# ---------------- panel d traces ----------------
d_specs = [
    (d_tlca_x, d_tlca_y, C['tlca']),
    (d_amca_x, d_amca_y, C['amca']),
    (d_kdca_x, d_kdca_y, C['kdca']),
    (d_klca_x, d_klca_y, C['klca']),
    (d_udca_x, d_udca_y, C['udca']),
    (d_bact_x, d_bact_y, C['bact']),
    (d_buni_x, d_buni_y, C['buni']),
]
for xs, ys, col in d_specs:
    fig.add_trace(go.Scatter(x=xs, y=ys, mode='lines', line=dict(color=col, width=1.1, shape='hv'),
                             showlegend=False, xaxis='x4', yaxis='y4', hoverinfo='skip'))
for xs, ys, col in d_specs:
    pk = step_peaks(xs, ys, THR_D)
    fig.add_trace(go.Scatter(x=[p[0] for p in pk], y=[p[1] for p in pk], mode='markers',
                             marker=dict(symbol='triangle-up', size=10, color=col, line=dict(width=0)),
                             showlegend=False, xaxis='x4', yaxis='y4', hoverinfo='skip'))

# ---------------- panel e ----------------
CSCALE = [[0.0, '#3f0a7e'], [0.25, '#9893c6'], [0.5, '#ffffff'], [0.75, '#f4957f'], [1.0, '#b00d1f']]


def bubble_size(q):
    return 7 + 1.9 * q


def add_bubbles(rmat, qmat, smat, xa, ya, show_scale):
    xs, ys, cs, ss = [], [], [], []
    tx, ty, tt = [], [], []
    for ri, row in enumerate(rmat):
        for ci, r in enumerate(row):
            xs.append(ci)
            ys.append(ri)
            cs.append(r)
            ss.append(bubble_size(qmat[ri][ci]))
            lab = smat[ri][ci]
            if lab:
                tx.append(ci)
                ty.append(ri + (0.17 if '*' in lab else 0.0))
                tt.append(lab)
    marker = dict(color=cs, size=ss, colorscale=CSCALE, cmin=-0.5, cmax=0.5, line=dict(width=0),
                  showscale=show_scale)
    if show_scale:
        marker['colorbar'] = dict(x=PX(743), xanchor='left', y=PY(431), yanchor='middle',
                                  len=84 / H, lenmode='fraction', thickness=19, thicknessmode='pixels',
                                  tickvals=[-0.499, -0.25, 0, 0.25, 0.499],
                                  ticktext=['−0.5', '−0.25', '0', '0.25', '0.5'],
                                  ticks='', outlinewidth=0, tickfont=dict(size=10, color=TXT), xpad=0, ypad=0)
    fig.add_trace(go.Scatter(x=xs, y=ys, mode='markers', marker=marker, showlegend=False,
                             xaxis=xa, yaxis=ya, hoverinfo='skip'))
    fig.add_trace(go.Scatter(x=tx, y=ty, mode='text', text=tt, textposition='middle center',
                             textfont=dict(size=10, color='#111111'), showlegend=False,
                             xaxis=xa, yaxis=ya, hoverinfo='skip'))


add_bubbles(cd_r, cd_q, cd_sig, 'x5', 'y5', True)
add_bubbles(hfd_r, hfd_q, hfd_sig, 'x6', 'y6', False)

fig.add_trace(go.Scatter(x=[0] * len(size_legend_vals), y=size_legend_vals, mode='markers+text',
                         text=[str(v) for v in size_legend_vals], textposition='middle right',
                         textfont=dict(size=10, color=TXT),
                         marker=dict(size=[bubble_size(v) for v in size_legend_vals], color='#000000'),
                         showlegend=False, xaxis='x7', yaxis='y7', hoverinfo='skip'))

# ---------------- layout ----------------
base = dict(showline=True, mirror=True, linecolor='#555555', linewidth=1, ticks='outside', ticklen=3,
            tickwidth=1, tickcolor='#555555', showgrid=False, zeroline=False, automargin=False,
            tickfont=dict(size=10, color=TXT))


def dom_x(p):
    return [PX(GEO[p]['x'][0]), PX(GEO[p]['x'][1])]


def dom_y(p):
    return [PY(GEO[p]['y'][1]), PY(GEO[p]['y'][0])]


fig.update_layout(
    width=W, height=H, margin=dict(l=0, r=0, t=0, b=0, autoexpand=False),
    paper_bgcolor='white', plot_bgcolor='white',
    font=dict(family=FONT, size=10, color=TXT),
    xaxis=dict(base, domain=dom_x('a'), range=list(GEO['a']['rx']), tickvals=CHR_MID, ticktext=CHR_NAMES,
               tickangle=0, anchor='y'),
    yaxis=dict(base, domain=dom_y('a'), range=list(GEO['a']['ry']), tickvals=[-4, -2, 0, 2, 4],
               zeroline=True, zerolinecolor='#222222', zerolinewidth=1, anchor='x'),
    xaxis2=dict(base, domain=dom_x('c'), range=list(GEO['c']['rx']), tickvals=CHR_MID, ticktext=CHR_NAMES,
                tickangle=0, anchor='y2'),
    yaxis2=dict(base, domain=dom_y('c'), range=list(GEO['c']['ry']), tickvals=[-2, 0, 2, 4],
                zeroline=True, zerolinecolor='#222222', zerolinewidth=1, anchor='x2'),
    xaxis3=dict(base, domain=dom_x('b'), range=list(GEO['b']['rx']), tickvals=[20, 40, 60, 80, 100], anchor='y3'),
    yaxis3=dict(base, domain=dom_y('b'), range=list(GEO['b']['ry']), tickvals=[0, 1, 2, 3, 4], anchor='x3'),
    xaxis4=dict(base, domain=dom_x('d'), range=list(GEO['d']['rx']), tickvals=[25, 50, 75, 100, 125], anchor='y4'),
    yaxis4=dict(base, domain=dom_y('d'), range=list(GEO['d']['ry']), tickvals=[0, 1, 2, 3, 4], anchor='x4'),
    xaxis5=dict(base, domain=[PX(528), PX(726)], range=[-0.625, 10.625], tickvals=list(range(11)),
                showticklabels=False, ticks='', anchor='y5'),
    yaxis5=dict(base, domain=[PY(450), PY(384)], range=[3.55, -0.6], tickvals=list(range(4)),
                ticktext=['<i>%s</i>' % r for r in e_rows], anchor='x5'),
    xaxis6=dict(base, domain=[PX(528), PX(726)], range=[-0.625, 10.625], tickvals=list(range(11)),
                ticktext=e_cols, tickangle=-45, anchor='y6', mirror='ticks', ticklabelstandoff=-4,
                tickfont=dict(size=9.5, color=TXT)),
    yaxis6=dict(base, domain=[PY(520), PY(454)], range=[3.55, -0.6], tickvals=list(range(4)),
                ticktext=['<i>%s</i>' % r for r in e_rows], anchor='x6'),
    xaxis7=dict(domain=[PX(735), PX(775)], range=[-1.4, 2.6], visible=False, automargin=False, anchor='y7'),
    yaxis7=dict(domain=[0, PY(520)], range=[4.48, 0.52], visible=False, automargin=False, anchor='x7'),
    legend=dict(x=PX(385), xanchor='left', y=PY(23), yanchor='top', font=dict(size=10, color=TXT),
                tracegroupgap=0.4, itemwidth=30, bgcolor='rgba(0,0,0,0)', traceorder='grouped'),
    legend2=dict(x=PX(385), xanchor='left', y=PY(231), yanchor='top', font=dict(size=10, color=TXT),
                 tracegroupgap=0.5, itemwidth=30, bgcolor='rgba(0,0,0,0)', traceorder='grouped'),
    legend3=dict(x=PX(385), xanchor='left', y=PY(186), yanchor='top', font=dict(size=10, color=TXT),
                 itemwidth=30, bgcolor='rgba(0,0,0,0)'),
)

# threshold lines
shapes = []
for xr, yr, thr, both in [('x', 'y', THR_A, True), ('x2', 'y2', THR_C, True),
                          ('x3', 'y3', THR_B, False), ('x4', 'y4', THR_D, False)]:
    vals = [thr, -thr] if both else [thr]
    for v in vals:
        shapes.append(dict(type='line', xref=xr + ' domain', yref=yr, x0=0, x1=1, y0=v, y1=v,
                           line=dict(color='#9a9a9a', width=1, dash='dashdot'), layer='below'))
# group bars in panel e
shapes.append(dict(type='line', xref='paper', yref='paper', x0=PX(458), x1=PX(458), y0=PY(437), y1=PY(387),
                   line=dict(color='#222222', width=1.2)))
shapes.append(dict(type='line', xref='paper', yref='paper', x0=PX(458), x1=PX(458), y0=PY(516), y1=PY(462),
                   line=dict(color='#222222', width=1.2)))
fig.update_layout(shapes=shapes)

ann = []


def txt(text, px, py, size=10, bold=False, italic=False, angle=0, xanchor='center', color=TXT):
    t = text
    if italic:
        t = '<i>%s</i>' % t
    if bold:
        t = '<b>%s</b>' % t
    ann.append(dict(text=t, x=PX(px), y=PY(py), xref='paper', yref='paper', showarrow=False,
                    font=dict(size=size, color=color), textangle=angle, xanchor=xanchor, yanchor='middle'))


# panel letters
for letter, px, py in [('a', 8, 10), ('b', 531, 11), ('c', 7, 249), ('d', 531, 193), ('e', 528, 366)]:
    txt(letter, px, py, size=17, bold=True)
txt('CD', 54, 22, size=12.5, bold=True)
txt('HFD', 57, 260, size=12.5, bold=True)
txt('LOD score', 11, 115, size=11, angle=-90)
txt('LOD score', 11, 351, size=11, angle=-90)
txt('LOD score', 532, 82, size=10, angle=-90)
txt('LOD score', 533, 266, size=10, angle=-90)
txt('Chromosomes', 209, 481, size=10.5)
txt('Chr4: 20-100Mb', 660, 177, size=10)
txt('Chr7: 20-125Mb', 660, 363, size=10)
txt('Turicibacter', 792, 82, size=10, bold=True, italic=True, angle=90)
txt('T. sanguinis', 781, 82, size=10, bold=True, italic=True, angle=90)
txt('Bacteroides', 791, 264, size=10, bold=True, italic=True, angle=90)
txt('B. uniformis', 779, 264, size=10, bold=True, italic=True, angle=90)
txt('gMxB1', 640, 21, size=10)
txt('gMxB2', 718, 33, size=10)
txt('gMxB3', 593, 207, size=10)
txt('gMxB4', 633, 216, size=10)
txt('CD', 445, 412, size=11, bold=True, angle=-90)
txt('HFD', 445, 487, size=11, bold=True, angle=-90)
txt('Correlation<br>coefficient', 759, 370, size=10)
txt('-Log<sub>10</sub><br>(BH-adjusted<br>P value)', 760, 500, size=10)


def label(panel, text, px, py, target=None, italic=False, xanchor='center', align='center', size=10):
    xr, yr = ('x', 'y') if panel == 'a' else ('x2', 'y2')
    lx, ly = to_data(panel, px, py)
    t = '<i>%s</i>' % text if italic else text
    if target is None:
        ann.append(dict(text=t, x=lx, y=ly, xref=xr, yref=yr, showarrow=False, xanchor=xanchor, align=align,
                        font=dict(size=size, color=TXT)))
    else:
        ann.append(dict(text=t, x=target[0], y=target[1], xref=xr, yref=yr, ax=lx, ay=ly, axref=xr, ayref=yr,
                        showarrow=True, arrowhead=0, arrowwidth=0.8, arrowcolor='#222222', standoff=0,
                        xanchor=xanchor, align=align, font=dict(size=size, color=TXT)))


label('a', 'Turicibacter', 166, 16, a_peaks['turi'][0], italic=True)
label('a', 'T. sanguinis', 166, 31, a_peaks['tsan'][-1], italic=True)
label('a', 'CA/All (Plasma T0)', 132, 176, a_peaks['ca_all'][0])
label('a', 'CDCA (Plasma T0)', 175, 188, a_peaks['cdca'][0])
label('a', 'TCA/All<br>(Plasma T30)', 41, 186, a_peaks['tca_t30'][0], xanchor='left', align='left', size=9.5)
label('a', 'CA (Plasma T0)', 213, 203, a_peaks['ca_t0'][0])
label('a', 'TCA/All<br>(Plasma T0)', 41, 211, xanchor='left', align='left', size=9.5)
label('a', 'CA/All (Liver)', 148, 214)
label('c', 'Bacteroides', 216, 253, italic=True)
label('c', 'B. uniformis', 225, 269, c_peaks['buni'][-1], italic=True)
label('c', '7-Keto-LCA (Feces)', 178, 418, c_peaks['klca'][0])
label('c', 'UDCA (Feces)', 135, 433)
label('c', '7-Keto-DCA/All (Feces)', 234, 433)
label('c', 'TLCA (Feces)', 136, 449)
label('c', 'α-MCA (Feces)', 211, 449)

fig.update_layout(annotations=ann)
fig.write_html("out.html")
